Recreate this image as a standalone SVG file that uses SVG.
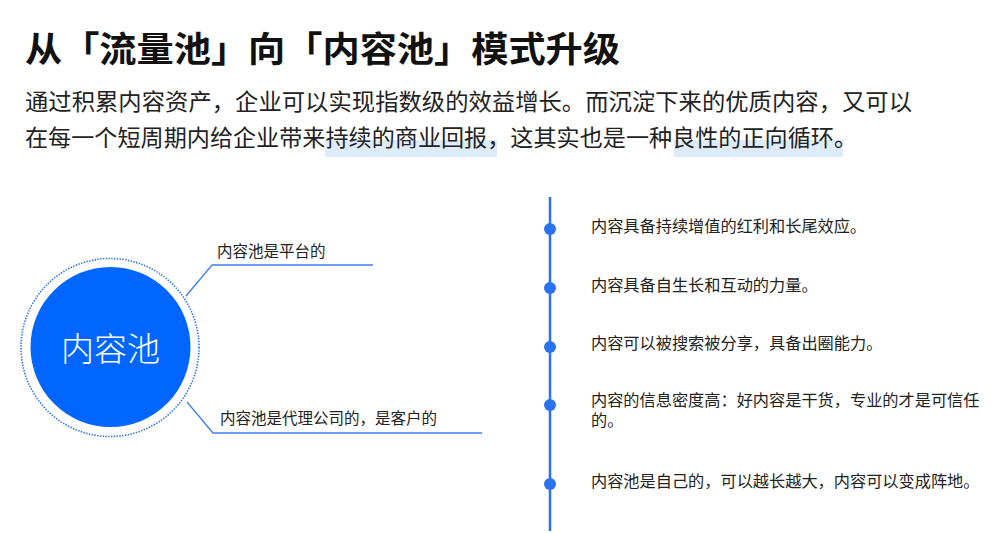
<svg xmlns="http://www.w3.org/2000/svg" width="1000" height="533" viewBox="0 0 1000 533">
<style>
text{font-family:"Noto Sans CJK SC","Noto Sans",sans-serif;}
.title{font-size:35px;font-weight:700;fill:#111;}
.para{font-size:23px;fill:#222;}
.lbl{font-size:15.5px;fill:#222;}
.item{font-size:16.2px;fill:#222;}
.conn{fill:none;stroke:#3d7ff0;stroke-width:1.3;}
.dot{fill:#2b72f0;}
.hl{fill:#deebfb;}
</style>
<rect width="1000" height="533" fill="#fff"/>
<g id="header">
<rect class="hl" x="325" y="140" width="172" height="17"/>
<rect class="hl" x="674" y="140" width="169" height="17"/>
<text class="title" x="25" y="62" textLength="595" lengthAdjust="spacingAndGlyphs">从「流量池」向「内容池」模式升级</text>
<text class="para" x="25" y="110" textLength="887" lengthAdjust="spacingAndGlyphs">通过积累内容资产，企业可以实现指数级的效益增长。而沉淀下来的优质内容，又可以</text>
<text class="para" x="25" y="146" textLength="832" lengthAdjust="spacingAndGlyphs">在每一个短周期内给企业带来持续的商业回报，这其实也是一种良性的正向循环。</text>
</g>
<g id="pool">
<circle cx="110" cy="347.5" r="89" fill="none" stroke="#2b72f0" stroke-width="1.6" stroke-dasharray="1.4 1.4"/>
<circle cx="110.5" cy="347" r="80" fill="#0066ff"/>
<text x="110.5" y="361" text-anchor="middle" font-size="33" fill="#fff" font-weight="300">内容池</text>
</g>
<g id="connectors">
<polyline class="conn" points="186,296 212,265 373,265"/>
<polyline class="conn" points="187,402 213,433 482,433"/>
</g>
<g id="label-platform">
<text class="lbl" x="217" y="257">内容池是平台的</text>
</g>
<g id="label-agency">
<text class="lbl" x="220" y="424">内容池是代理公司的，是客户的</text>
</g>
<g id="timeline">
<line x1="550" y1="197" x2="550" y2="531" stroke="#2b72f0" stroke-width="2.5"/>
<circle class="dot" cx="550" cy="229" r="6"/>
<circle class="dot" cx="550" cy="288" r="6"/>
<circle class="dot" cx="550" cy="347" r="6"/>
<circle class="dot" cx="550" cy="405" r="6"/>
<circle class="dot" cx="550" cy="484" r="6"/>
</g>
<g id="item1"><text class="item" x="591" y="232">内容具备持续增值的红利和长尾效应。</text></g>
<g id="item2"><text class="item" x="591" y="291">内容具备自生长和互动的力量。</text></g>
<g id="item3"><text class="item" x="591" y="349">内容可以被搜索被分享，具备出圈能力。</text></g>
<g id="item4"><text class="item" x="591" y="406">内容的信息密度高：好内容是干货，专业的才是可信任<tspan x="591" dy="20">的。</tspan></text></g>
<g id="item5"><text class="item" x="591" y="487">内容池是自己的，可以越长越大，内容可以变成阵地。</text></g>
</svg>
